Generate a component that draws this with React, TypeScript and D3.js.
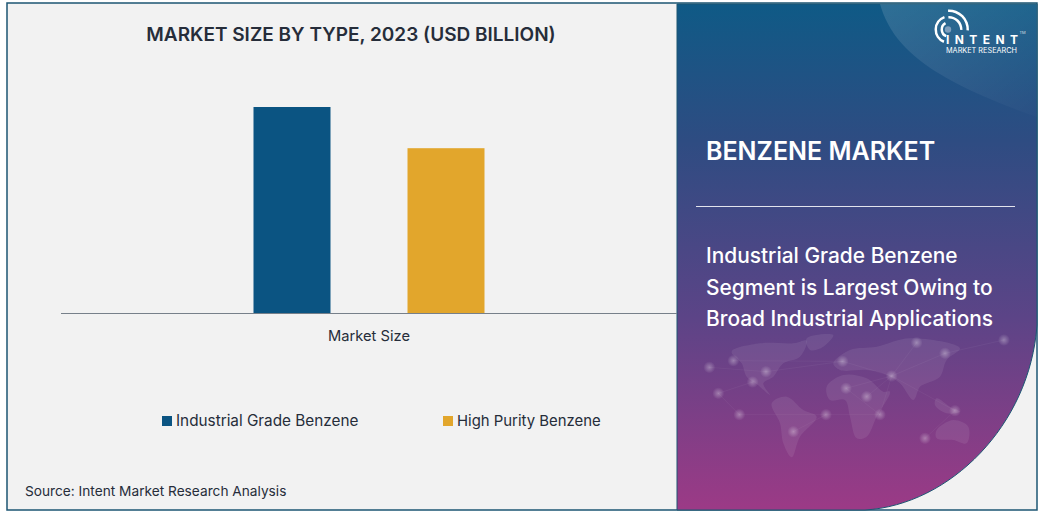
import React from "react";
import * as d3 from "d3";

const categories = ["Market Size"];
const seriesNames = ["Industrial Grade Benzene", "High Purity Benzene"];
const seriesValues = [25, 20]; // no axis in the picture, only the ratio can be read
const seriesColors = ["#0b5482", "#e2a62c"];
const subtitleLines = [
  "Industrial Grade Benzene",
  "Segment is Largest Owing to",
  "Broad Industrial Applications",
];

// rough outlines for the faint world map, in a 3x local space
const mapShapes: [number, number][][] = [
  [[215, 95], [300, 70], [400, 70], [440, 62], [420, 110], [370, 130], [340, 170], [310, 190], [330, 225], [290, 192], [260, 170], [245, 130]],
  [[440, 55], [520, 45], [490, 80], [450, 90]],
  [[335, 250], [380, 230], [430, 270], [470, 290], [420, 350], [395, 412], [370, 370], [360, 310]],
  [[500, 200], [550, 165], [620, 175], [670, 215], [690, 215], [650, 290], [620, 350], [590, 355], [570, 290], [555, 240], [510, 240]],
  [[520, 130], [570, 90], [650, 80], [750, 55], [900, 85], [860, 120], [840, 170], [800, 190], [780, 200], [760, 240], [720, 190], [670, 160], [620, 150], [540, 150]],
  [[830, 330], [880, 300], [925, 320], [920, 370], [880, 360], [830, 355]],
  [[830, 235], [870, 260], [900, 275], [860, 280], [825, 255]],
];
const mapNodes: [number, number][] = [
  [148, 142], [175, 220], [238, 284], [220, 122], [318, 155], [278, 186], [400, 335], [498, 284],
  [548, 124], [558, 205], [620, 230], [660, 284], [695, 168], [770, 68], [855, 100], [885, 272], [1032, 60], [795, 355],
];
const mapLinks: [number, number][] = [
  [0, 4], [1, 5], [2, 7], [3, 8], [4, 8], [6, 7], [7, 11], [8, 12], [9, 12], [10, 12], [11, 12], [12, 13], [12, 14], [12, 15], [14, 16], [11, 9], [15, 17], [2, 1],
];

const W = 1043;
const H = 513;
const FONT = "Inter, 'Open Sans', sans-serif";

const App = () => {
  const baseY = 313;
  const y = d3.scaleLinear().domain([0, 25]).range([baseY, 107]);
  const x0 = d3.scaleBand().domain(categories).range([61, 677]).paddingInner(0).paddingOuter(0.8333);
  const x1 = d3
    .scaleBand()
    .domain(seriesNames)
    .range([0, x0.bandwidth()])
    .paddingInner(0.5)
    .paddingOuter(0);

  const outline = d3.line().curve(d3.curveCatmullRomClosed.alpha(0.5));
  const ringArc = d3.arc();

  // panel with the big rounded lower right corner
  const panelPath =
    "M677,4 L1037,4 L1037,325 C1030,425 950,505 865,510 L677,510 Z";

  const rings = [
    { r: 20, a: [-0.05, 1.62] },
    { r: 13.5, a: [-0.05, 1.6] },
    { r: 14.5, a: [-2.75, -0.35] },
    { r: 8.5, a: [-2.75, -0.5] },
  ];

  return (
    <svg
      width={W}
      height={H}
      style={{ position: "absolute", left: 0, top: 0, display: "block", background: "#fff" }}
      fontFamily={FONT}
    >
      <defs>
        <linearGradient id="panelFill" x1="0" y1="0" x2="0" y2="1">
          <stop offset="0" stopColor="#0f5a86" />
          <stop offset="0.27" stopColor="#2e4c82" />
          <stop offset="0.62" stopColor="#5c4487" />
          <stop offset="1" stopColor="#9c3a86" />
        </linearGradient>
        <linearGradient id="swoosh" x1="0" y1="0" x2="1" y2="1">
          <stop offset="0" stopColor="#fff" stopOpacity={0.13} />
          <stop offset="1" stopColor="#fff" stopOpacity={0.01} />
        </linearGradient>
        <clipPath id="panelClip">
          <path d={panelPath} />
        </clipPath>
        <radialGradient id="nodeGlow">
          <stop offset="0" stopColor="#fff" stopOpacity={0.32} />
          <stop offset="1" stopColor="#fff" stopOpacity={0} />
        </radialGradient>
      </defs>

      <rect x={7} y={3} width={1030} height={507} fill="#f2f2f2" stroke="#1c5673" strokeWidth={1.5} />
      <path d={panelPath} fill="url(#panelFill)" stroke="#1c5673" strokeWidth={1} />

      <g clipPath="url(#panelClip)">
        <path d="M880,4 C892,45 925,78 1037,117 L1037,4 Z" fill="url(#swoosh)" />
        <g transform="translate(660,320) scale(0.3333)">
          {mapShapes.map((s, i) => (
            <path key={i} d={outline(s) as string} fill="#fff" opacity={0.08} />
          ))}
          {mapLinks.map(([a, b], i) => (
            <line
              key={i}
              x1={mapNodes[a][0]}
              y1={mapNodes[a][1]}
              x2={mapNodes[b][0]}
              y2={mapNodes[b][1]}
              stroke="#fff"
              strokeOpacity={0.07}
              strokeWidth={2}
            />
          ))}
          {mapNodes.map((n, i) => (
            <circle key={i} cx={n[0]} cy={n[1]} r={18} fill="url(#nodeGlow)" />
          ))}
        </g>
      </g>

      <text x={351} y={41} textAnchor="middle" fontSize={19} fontWeight={600} fill="#262d3a">
        MARKET SIZE BY TYPE, 2023 (USD BILLION)
      </text>

      {categories.map((c) => (
        <g key={c} transform={`translate(${x0(c)},0)`}>
          {seriesNames.map((s, i) => (
            <rect
              key={s}
              x={x1(s)}
              y={y(seriesValues[i])}
              width={x1.bandwidth()}
              height={baseY - y(seriesValues[i])}
              fill={seriesColors[i]}
            />
          ))}
        </g>
      ))}
      <line x1={61} x2={677} y1={baseY + 0.5} y2={baseY + 0.5} stroke="#77808a" strokeWidth={1} />
      {categories.map((c) => (
        <text
          key={c}
          x={(x0(c) as number) + x0.bandwidth() / 2}
          y={341}
          textAnchor="middle"
          fontSize={14.7}
          fill="#262d3a"
        >
          {c}
        </text>
      ))}

      {seriesNames.map((s, i) => {
        const lx = [162, 443][i];
        return (
          <g key={s}>
            <rect x={lx} y={416} width={10} height={10} fill={seriesColors[i]} />
            <text x={lx + 14} y={426} fontSize={[15.3, 14.9][i]} fill="#262d3a">
              {s}
            </text>
          </g>
        );
      })}

      <text x={25} y={496} fontSize={13.7} fill="#262d3a">
        Source: Intent Market Research Analysis
      </text>

      <text x={706} y={160} fontSize={25} fontWeight={600} fill="#fff">
        BENZENE MARKET
      </text>
      <line x1={696} x2={1015} y1={206.5} y2={206.5} stroke="#fff" strokeOpacity={0.85} />
      {subtitleLines.map((t, i) => (
        <text key={t} x={706} y={[263, 295, 326][i]} fontSize={20.9} fontWeight={500} fill="#fff">
          {t}
        </text>
      ))}

      <g transform="translate(949,29.5)" fill="#fff">
        {rings.map((d) => (
          <path
            key={d.r}
            d={ringArc({ innerRadius: d.r - 2.5, outerRadius: d.r, startAngle: d.a[0], endAngle: d.a[1] }) as string}
          />
        ))}
        <circle cx={-1} r={3.2} fill="#7f9fbd" />
      </g>
      <text x={946} y={43.5} fontSize={12} fontWeight={700} fill="#fff">
        <tspan letterSpacing={5.4}>INTEN</tspan>
        <tspan>T</tspan>
      </text>
      <text x={1019.5} y={34} fontSize={4} fill="#fff" fillOpacity={0.8}>
        TM
      </text>
      <text x={946} y={53} fontSize={7.3} fill="#fff">
        MARKET RESEARCH
      </text>
    </svg>
  );
};

export default App;
